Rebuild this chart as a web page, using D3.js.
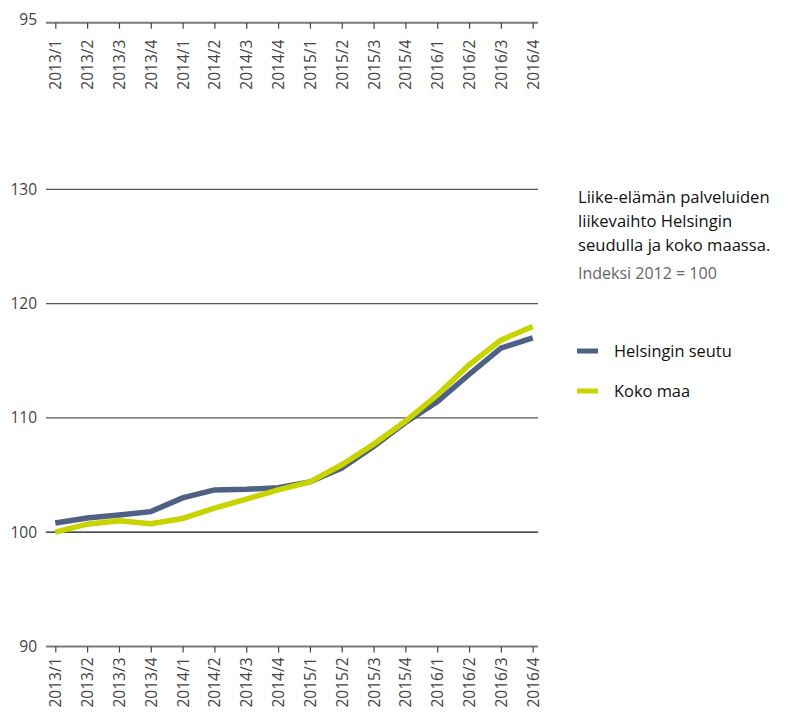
<!DOCTYPE html>
<html><head><meta charset="utf-8">
<script src="https://cdn.jsdelivr.net/npm/d3@7"></script>
<style>
body{margin:0;background:#fff;}
svg{display:block;font-family:"Open Sans",sans-serif;}
</style></head>
<body><svg id="c" width="793" height="713"></svg>
<script>
const categories = ["2013/1","2013/2","2013/3","2013/4","2014/1","2014/2","2014/3","2014/4","2015/1","2015/2","2015/3","2015/4","2016/1","2016/2","2016/3","2016/4"];
const helsinki = [100.8,101.25,101.5,101.8,103.0,103.7,103.75,103.9,104.4,105.6,107.5,109.6,111.4,113.8,116.1,117.0];
const kokoMaa = [100.0,100.7,101.0,100.75,101.2,102.1,102.9,103.7,104.4,105.9,107.7,109.7,112.0,114.65,116.8,118.0];
const yTicks = [90,100,110,120,130];
const topTick = [95];
const seriesNames = ["Helsingin seutu","Koko maa"];
const seriesColors = ["#4e6184","#c8d400"];
const titleLines = ["Liike-elämän palveluiden","liikevaihto Helsingin","seudulla ja koko maassa."];
const subtitle = "Indeksi 2012 = 100";

const svg = d3.select("#c");
const x = d3.scalePoint().domain(categories).range([55.3,532.7]);
const y = d3.scaleLinear().domain([90,130]).range([646.5,189.3]);
const xL = 46, xR = 538;

// gridlines
const g = svg.append("g");
yTicks.forEach(t=>{
  g.append("line").attr("x1",xL).attr("x2",xR).attr("y1",y(t)).attr("y2",y(t))
   .attr("stroke", t===90 ? "#7a7a7a" : (t===100 ? "#111" : "#555"))
   .attr("stroke-width", t===90 ? 2 : 1.2);
  g.append("text").attr("x",37).attr("y",y(t)+5.5).attr("text-anchor","end")
   .attr("font-size",15.5).attr("fill","#444").text(t);
});

// bottom axis
const bx = svg.append("g").attr("transform",`translate(0,${y(90)})`)
  .call(d3.axisBottom(x).tickSize(6).tickPadding(0));
bx.select(".domain").remove();
bx.selectAll(".tick line").attr("stroke","#444").attr("stroke-width",1.2);
bx.selectAll(".tick text").attr("transform","rotate(-90)").attr("text-anchor","end")
  .attr("x",-11).attr("y",0).attr("dy","0.35em").attr("font-size",15.5).attr("fill","#444")
  .attr("font-family","Open Sans, sans-serif");

// top axis (95)
const topY = 22.7;
svg.append("line").attr("x1",xL).attr("x2",xR).attr("y1",topY).attr("y2",topY)
  .attr("stroke","#7a7a7a").attr("stroke-width",2);
svg.append("text").attr("x",37).attr("y",topY+2).attr("text-anchor","end")
  .attr("font-size",15.5).attr("fill","#444").text(topTick[0]);
const tx = svg.append("g").attr("transform",`translate(0,${topY})`)
  .call(d3.axisBottom(x).tickSize(6).tickPadding(0));
tx.select(".domain").remove();
tx.selectAll(".tick line").attr("stroke","#444").attr("stroke-width",1.2);
tx.selectAll(".tick text").attr("transform","rotate(-90)").attr("text-anchor","end")
  .attr("x",-17).attr("y",0).attr("dy","0.35em").attr("font-size",15.5).attr("fill","#444")
  .attr("font-family","Open Sans, sans-serif");

// lines
const line = d3.line().x((d,i)=>x(categories[i])).y(d=>y(d));
[helsinki,kokoMaa].forEach((s,k)=>{
  svg.append("path").datum(s).attr("d",line).attr("fill","none")
    .attr("stroke",seriesColors[k]).attr("stroke-width",5.5).attr("stroke-linejoin","miter");
});

// legend/title
titleLines.forEach((t,i)=>{
  svg.append("text").attr("x",578).attr("y",203+i*24).attr("font-size",16.6)
    .attr("fill","#111").text(t);
});
svg.append("text").attr("x",578).attr("y",279).attr("font-size",16)
  .attr("fill","#666").text(subtitle);
seriesNames.forEach((n,i)=>{
  const ly = 351 + i*40;
  svg.append("line").attr("x1",577).attr("x2",598).attr("y1",ly).attr("y2",ly)
    .attr("stroke",seriesColors[i]).attr("stroke-width",5);
  svg.append("text").attr("x",614).attr("y",ly+6).attr("font-size",16.4)
    .attr("fill","#111").text(n);
});
</script></body></html>
